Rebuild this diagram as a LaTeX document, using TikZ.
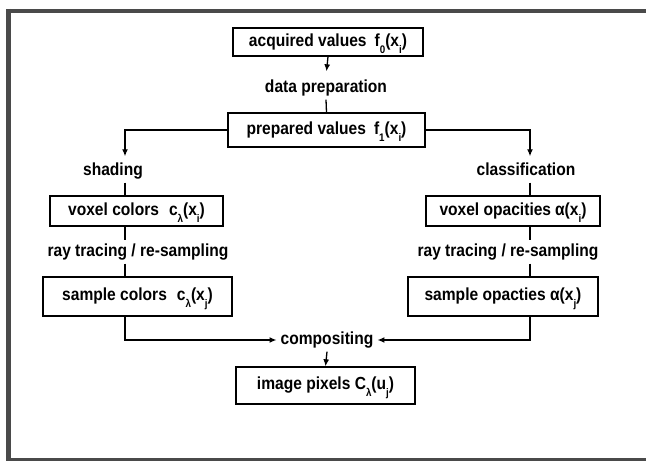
\documentclass[tikz,border=0pt]{standalone}
\usepackage{fontspec}
\setmainfont{Liberation Sans}[FakeStretch=0.89]
\usetikzlibrary{arrows.meta}
\newcommand{\subtxt}[1]{\raisebox{-0.75ex}{\fontsize{11}{11}\selectfont #1}}
\definecolor{framegray}{HTML}{4A4A4A}
\tikzset{
  lab/.style={font=\bfseries\fontsize{17.5}{20}\selectfont, text height=12pt, text depth=3pt},
  box/.style={lab, draw, line width=1.4pt, inner sep=0pt, align=center},
  txt/.style={lab, inner sep=4pt},
  conn/.style={line width=1.3pt},
  arr/.style={conn, -{Latex[length=7pt,width=6pt]}},
}
\begin{document}
\begin{tikzpicture}[x=1pt,y=-1pt]
\useasboundingbox (0,0) rectangle (646,462);
% frame
\draw[framegray, line width=3.5pt] (6,11) -- (646,11);
\draw[framegray, line width=5pt] (8.5,9) -- (8.5,461);
\draw[framegray, line width=2.5pt] (6,459.5) -- (646,459.5);
% line positions
\coordinate (lx) at (125,0);
\coordinate (rx) at (530,0);
% nodes
\node[box, minimum width=190pt, minimum height=28pt] (A) at (328,42) {acquired values\hspace{8pt}f\subtxt{0}(x\subtxt{i})};
\node[txt] (dp) at (326,88) {data preparation};
\node[box, minimum width=197pt, minimum height=34pt] (B) at (326.5,130) {prepared values\hspace{8pt}f\subtxt{1}(x\subtxt{i})};
\node[txt] (sh) at (113,171) {shading};
\node[txt] (cl) at (526,171) {classification};
\node[box, minimum width=173pt, minimum height=30pt] (vc) at (136.5,211) {voxel colors\hspace{10pt}c\subtxt{λ}(x\subtxt{i})};
\node[box, minimum width=174pt, minimum height=30pt] (vo) at (513,211) {voxel opacities\hspace{4pt}α(x\subtxt{i})};
\node[txt] (rt1) at (138,252) {ray tracing / re-sampling};
\node[txt] (rt2) at (508,252) {ray tracing / re-sampling};
\node[box, minimum width=189pt, minimum height=39pt] (sc) at (137.5,296.5) {sample colors\hspace{10pt}c\subtxt{λ}(x\subtxt{j})};
\node[box, minimum width=190pt, minimum height=39pt] (so) at (503,296.5) {sample opacties α(x\subtxt{j})};
\node[txt] (comp) at (327,340) {compositing};
\node[box, minimum width=179pt, minimum height=37pt] (ip) at (325.5,385.5) {image pixels C\subtxt{λ}(u\subtxt{j})};
% connectors
\draw[arr, shorten >=5pt] (A.south) -- (dp.north);
\draw[conn] (dp.south) -- (B.north);
\draw[arr, shorten >=3pt] (B.west) -| (lx |- sh.north);
\draw[arr, shorten >=3pt] (B.east) -| (rx |- cl.north);
\draw[conn] (lx |- sh.south) -- (lx |- vc.north);
\draw[conn] (rx |- cl.south) -- (rx |- vo.north);
\draw[conn] (lx |- vc.south) -- (lx |- rt1.north);
\draw[conn] (rx |- vo.south) -- (rx |- rt2.north);
\draw[conn] (lx |- rt1.south) -- (lx |- sc.north);
\draw[conn] (rx |- rt2.south) -- (rx |- so.north);
\draw[arr] (lx |- sc.south) |- (comp.west);
\draw[arr] (rx |- so.south) |- (comp.east);
\draw[arr] (comp.south) -- (ip.north);
\end{tikzpicture}
\end{document}
